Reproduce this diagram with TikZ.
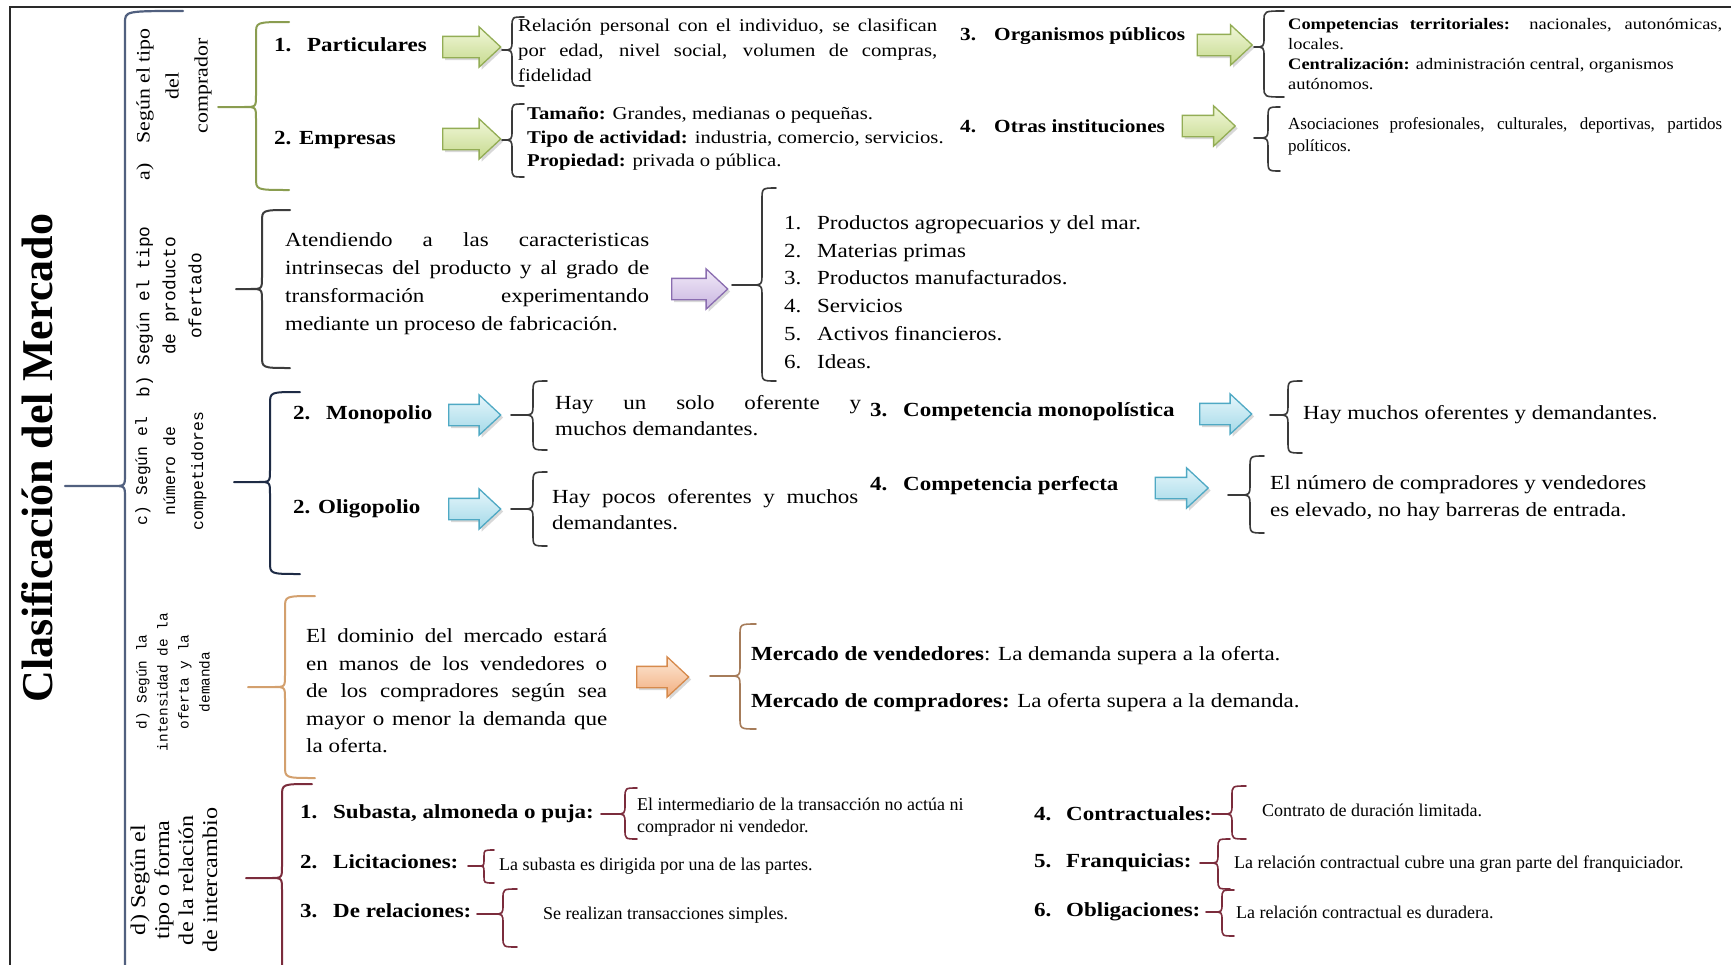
\documentclass[tikz,border=0pt]{standalone}
\usepackage{fontspec}
\setmainfont{Liberation Serif}
\newfontfamily\widefont{Liberation Serif}[FakeStretch=1.15]
\newfontfamily\monofont{Liberation Mono}
\usetikzlibrary{shapes.arrows,shadows}

\definecolor{framegray}{HTML}{2A2A2A}
\definecolor{mainbrace}{HTML}{51607F}
\definecolor{bracea}{HTML}{8A9D50}
\definecolor{braceb}{HTML}{3C3C3C}
\definecolor{bracec}{HTML}{1E2B45}
\definecolor{braced}{HTML}{D3A06E}
\definecolor{bracee}{HTML}{7B2C3C}
\definecolor{subgray}{HTML}{3A3A3A}
\definecolor{subtan}{HTML}{A67C5A}
\definecolor{greenline}{HTML}{93AD55}
\definecolor{greentop}{HTML}{F1F7D9}
\definecolor{greenbot}{HTML}{C6DA8E}
\definecolor{purpleline}{HTML}{8A6DB0}
\definecolor{purpletop}{HTML}{F1EAF8}
\definecolor{purplebot}{HTML}{C9B5E0}
\definecolor{blueline}{HTML}{4FA9C4}
\definecolor{bluetop}{HTML}{E6F6FB}
\definecolor{bluebot}{HTML}{A3D9E8}
\definecolor{orangeline}{HTML}{D68A4C}
\definecolor{orangetop}{HTML}{FDE8D6}
\definecolor{orangebot}{HTML}{F2AE7E}

% curly brace opening to the right, tip pointing left:
% style, x of the stem, top y, bottom y, tip y, hook length, tip length
\newcommand\mbrace[7]{%
  \pgfmathsetmacro\mbr{min(12,(#5-#3)/2.5,(#4-#5)/2.5,#7)}%
  \draw[#1] (#2+#6,#3) .. controls (#2,#3) .. (#2,#3+\mbr)
    -- (#2,#5-\mbr) .. controls (#2,#5) .. (#2-\mbr,#5) -- (#2-#7,#5)
    (#2-\mbr,#5) .. controls (#2,#5) .. (#2,#5+\mbr)
    -- (#2,#4-\mbr) .. controls (#2,#4) .. (#2+#6,#4);}

\tikzset{
  frameline/.style={draw=framegray, line width=1.5pt},
  bigbrace/.style={line width=2.2pt, line cap=round},
  secbrace/.style={line width=2pt, line cap=round},
  subbrace/.style={line width=1.6pt, line cap=round},
  lab/.style={inner sep=0pt, rotate=90},
  item/.style={inner sep=0pt, anchor=west, font=\widefont\bfseries\fontsize{20}{24}\selectfont},
  itemsmall/.style={item, font=\widefont\bfseries\fontsize{18.5}{24}\selectfont},
  body/.style={inner sep=0pt, anchor=west},
  blockarrow/.style={single arrow, line width=1.3pt, inner xsep=0pt, inner ysep=10pt,
    single arrow head extend=9.5pt, single arrow tip angle=86,
    drop shadow={opacity=0.3, shadow xshift=2.5pt, shadow yshift=-2.5pt}},
  greenarrow/.style={blockarrow, draw=greenline, top color=greentop, bottom color=greenbot},
  purplearrow/.style={blockarrow, draw=purpleline, top color=purpletop, bottom color=purplebot},
  bluearrow/.style={blockarrow, draw=blueline, top color=bluetop, bottom color=bluebot},
  orangearrow/.style={blockarrow, draw=orangeline, top color=orangetop, bottom color=orangebot},
}

\begin{document}
\begin{tikzpicture}[x=1pt,y=-1pt]
\useasboundingbox (0,0) rectangle (1731,964);
\fill[white] (0,0) rectangle (1731,964);
\clip (0,0) rectangle (1731,964);

% frame
\draw[frameline] (10,980) -- (10,7) -- (1740,7);

% title and main brace
\node[inner sep=0pt, rotate=90, font=\bfseries\fontsize{44}{50}\selectfont] (title) at (37,458) {Clasificación del Mercado};
\mbrace{bigbrace, draw=mainbrace}{125}{11}{975}{486}{58}{60}

% ---------- a) buyer type ----------
\node[lab, font=\widefont\fontsize{19}{29}\selectfont] (la) at (174,104)
  {\makebox[36pt][l]{a)}\parbox[t]{116pt}{\centering Según el tipo\\del\\comprador}};
\mbrace{secbrace, draw=bracea}{256}{22}{190}{107}{33}{38}

\node[item] (pa1) at (274,45) {\makebox[33pt][l]{1.}Particulares};
\node[item] (pa2) at (274,140) {2. Empresas};
\node[greenarrow, minimum height=58pt] (ga1) at (466,47) {};
\node[greenarrow, minimum height=58pt] (ga2) at (466,139) {};
\mbrace{subbrace, draw=subgray}{512}{17}{86}{50}{12}{10}
\mbrace{subbrace, draw=subgray}{512}{104}{177}{140}{12}{10}
\node[body, font=\widefont\fontsize{18}{25}\selectfont, text width=419pt, align=justify] (ta1) at (518,50)
  {Relación personal con el individuo, se clasifican\linebreak por edad, nivel social, volumen de compras,\linebreak fidelidad};
\node[body, font=\widefont\fontsize{18}{23.5}\selectfont, align=left] (ta2) at (527,139)
  {\textbf{Tamaño:} Grandes, medianas o pequeñas.\\\textbf{Tipo de actividad:} industria, comercio, servicios.\\\textbf{Propiedad:} privada o pública.};

\node[itemsmall] (pa3) at (960,36) {\makebox[34pt][l]{3.}Organismos públicos};
\node[itemsmall] (pa4) at (960,126) {\makebox[34pt][l]{4.}Otras instituciones};
\node[greenarrow, minimum height=55pt] (ga3) at (1219,45) {};
\node[greenarrow, minimum height=53pt] (ga4) at (1203,126) {};
\mbrace{subbrace, draw=subgray}{1264}{11}{97}{47}{20}{10}
\mbrace{subbrace, draw=subgray}{1268}{107}{171}{138}{12}{14}
\node[body, font=\widefont\fontsize{16}{20}\selectfont, text width=434pt, align=justify] (ta3) at (1288,54)
  {\textbf{Competencias territoriales:} nacionales, autonómicas,\linebreak locales.\\\textbf{Centralización:} administración central, organismos\\autónomos.};
\node[body, font=\fontsize{17}{22}\selectfont, text width=434pt, align=justify] (ta4) at (1288,136)
  {Asociaciones profesionales, culturales, deportivas, partidos\linebreak políticos.};

% ---------- b) product type ----------
\node[lab, font=\monofont\fontsize{17.8}{26}\selectfont] (lb) at (169,312)
  {\makebox[32pt][l]{b)}\parbox[t]{139pt}{\centering Según el tipo\\de producto\\ofertado}};
\mbrace{secbrace, draw=braceb}{262}{210}{368}{289}{28}{26}
\node[body, font=\widefont\fontsize{20}{28}\selectfont, text width=364pt, align=justify] (tb) at (285,284)
  {Atendiendo a las caracteristicas\linebreak intrinsecas del producto y al grado de\linebreak transformación experimentando\linebreak mediante un proceso de fabricación.};
\node[purplearrow, minimum height=56pt] (pb) at (694,289) {};
\mbrace{subbrace, draw=subgray}{762}{188}{381}{285}{14}{30}
\node[body, font=\widefont\fontsize{20}{27.8}\selectfont, align=left] (lbl) at (784,292)
  {\makebox[33pt][l]{1.}Productos agropecuarios y del mar.\\
   \makebox[33pt][l]{2.}Materias primas\\
   \makebox[33pt][l]{3.}Productos manufacturados.\\
   \makebox[33pt][l]{4.}Servicios\\
   \makebox[33pt][l]{5.}Activos financieros.\\
   \makebox[33pt][l]{6.}Ideas.};

% ---------- c) number of competitors ----------
\node[lab, font=\monofont\fontsize{16.4}{28}\selectfont, align=center] (lc) at (171,471)
  {c) Según el\\número de\\competidores};
\mbrace{secbrace, draw=bracec}{270}{392}{574}{482}{30}{36}
\node[item] (pc1) at (293,415) {\makebox[33pt][l]{2.}Monopolio};
\node[item] (pc2) at (293,509) {2. Oligopolio};
\node[bluearrow, minimum height=52pt] (bc1) at (469,415) {};
\node[bluearrow, minimum height=52pt] (bc2) at (469,509) {};
\mbrace{subbrace, draw=subgray}{533}{381}{450}{415}{14}{22}
\mbrace{subbrace, draw=subgray}{533}{472}{546}{509}{14}{22}
\node[body, font=\widefont\fontsize{20}{26}\selectfont, text width=306pt, align=justify] (tc1) at (555,416)
  {Hay un solo oferente y\linebreak muchos demandantes.};
\node[body, font=\widefont\fontsize{20}{26}\selectfont, text width=306pt, align=justify] (tc2) at (552,509.5)
  {Hay pocos oferentes y muchos\linebreak demandantes.};
\node[item] (pc3) at (870,412) {\makebox[33pt][l]{3.}Competencia monopolística};
\node[item] (pc4) at (870,486) {\makebox[33pt][l]{4.}Competencia perfecta};
\node[bluearrow, minimum height=52pt] (bc3) at (1220,414) {};
\node[bluearrow, minimum height=53pt] (bc4) at (1176,488) {};
\mbrace{subbrace, draw=subgray}{1288}{381}{453}{415}{14}{18}
\mbrace{subbrace, draw=subgray}{1250}{456}{533}{495}{14}{22}
\node[body, font=\widefont\fontsize{20}{26}\selectfont] (tc3) at (1303,415)
  {Hay muchos oferentes y demandantes.};
\node[body, font=\widefont\fontsize{20}{27}\selectfont, align=left] (tc4) at (1270,498.5)
  {El número de compradores y vendedores\\es elevado, no hay barreras de entrada.};

% ---------- d) supply and demand ----------
\node[lab, font=\monofont\fontsize{14.4}{21}\selectfont, align=center] (ld) at (173,682)
  {d) Según la\\intensidad de la\\oferta y la\\demanda};
\mbrace{secbrace, draw=braced}{285}{596}{778}{687}{30}{37}
\node[body, font=\widefont\fontsize{20}{27.5}\selectfont, text width=301pt, align=justify] (td) at (306,691)
  {El dominio del mercado estará\linebreak en manos de los vendedores o\linebreak de los compradores según sea\linebreak mayor o menor la demanda que\linebreak la oferta.};
\node[orangearrow, minimum height=52pt] (od) at (657,677) {};
\mbrace{subbrace, draw=subtan}{740}{624}{729}{676}{16}{30}
\node[body, font=\widefont\fontsize{20}{47}\selectfont, align=left] (td2) at (751,679.5)
  {\textbf{Mercado de vendedores}: La demanda supera a la oferta.\\\textbf{Mercado de compradores:} La oferta supera a la demanda.};

% ---------- exchange relation ----------
\node[lab, font=\widefont\fontsize{21}{24}\selectfont, align=center] (le) at (174,880)
  {d) Según el\\tipo o forma\\de la relación\\de intercambio};
\mbrace{secbrace, draw=bracee}{282}{784}{972}{878}{30}{36}
\node[item] (pe1) at (300,814) {\makebox[33pt][l]{1.}Subasta, almoneda o puja:};
\node[item] (pe2) at (300,862) {\makebox[33pt][l]{2.}Licitaciones:};
\node[item] (pe3) at (300,911) {\makebox[33pt][l]{3.}De relaciones:};
\mbrace{subbrace, draw=bracee}{625}{788}{839}{814}{12}{24}
\mbrace{subbrace, draw=bracee}{484}{850}{883}{866}{10}{16}
\mbrace{subbrace, draw=bracee}{503}{889}{947}{914}{14}{26}
\node[body, font=\fontsize{18}{22}\selectfont, align=left] (te1) at (637,817)
  {El intermediario de la transacción no actúa ni\\comprador ni vendedor.};
\node[body, font=\fontsize{18}{22}\selectfont] (te2) at (499,866) {La subasta es dirigida por una de las partes.};
\node[body, font=\fontsize{18}{22}\selectfont] (te3) at (543,915) {Se realizan transacciones simples.};

\node[item] (pe4) at (1034,814) {\makebox[32pt][l]{4.}Contractuales:};
\node[item] (pe5) at (1034,863) {\makebox[32pt][l]{5.}Franquicias:};
\node[item] (pe6) at (1034,912) {\makebox[32pt][l]{6.}Obligaciones:};
\mbrace{subbrace, draw=bracee}{1232}{786}{839}{814}{14}{20}
\mbrace{subbrace, draw=bracee}{1218}{839}{889}{863}{12}{18}
\mbrace{subbrace, draw=bracee}{1222}{890}{936}{912}{12}{16}
\node[body, font=\fontsize{18}{22}\selectfont] (te4) at (1262,810) {Contrato de duración limitada.};
\node[body, font=\fontsize{18}{22}\selectfont] (te5) at (1234,864) {La relación contractual cubre una gran parte del franquiciador.};
\node[body, font=\fontsize{18}{22}\selectfont] (te6) at (1236,912) {La relación contractual es duradera.};
\end{tikzpicture}
\end{document}
